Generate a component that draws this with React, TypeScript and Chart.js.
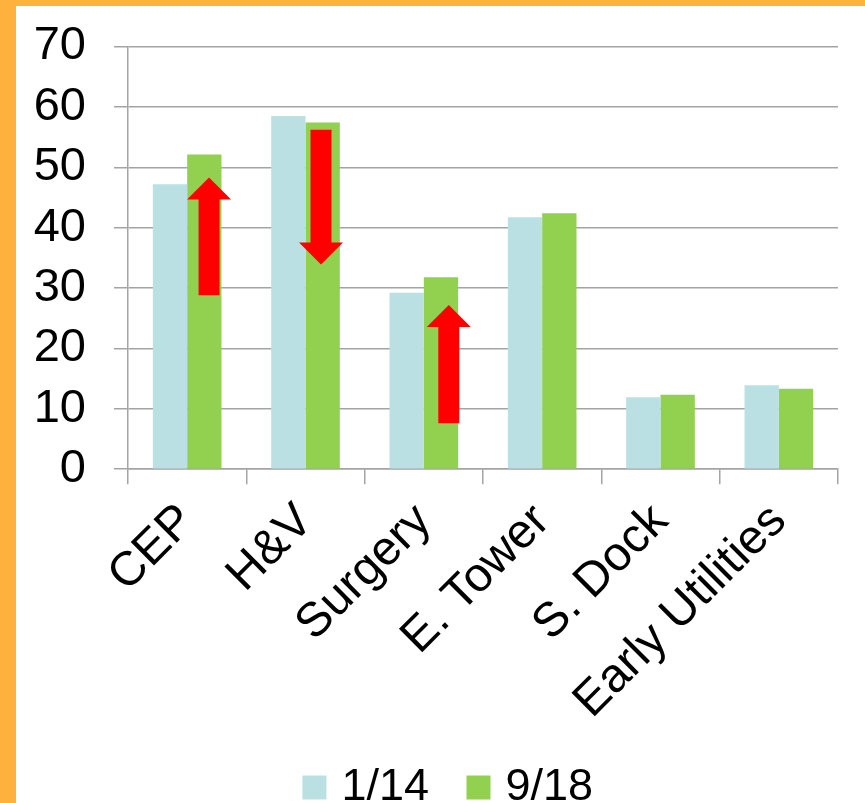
import React, { useEffect, useRef } from "react";
import { Chart, registerables } from "chart.js";

Chart.register(...registerables);

const categories = ["CEP", "H&V", "Surgery", "E. Tower", "S. Dock", "Early Utilities"];
const seriesLabels = ["1/14", "9/18"];
const series1 = [47.2, 58.5, 29.2, 41.7, 11.9, 13.9];
const series2 = [52.1, 57.4, 31.8, 42.4, 12.3, 13.3];
const yMin = 0;
const yMax = 70;
const yStep = 10;

// Red arrow annotations: category position (fractional index), start value, end value
const arrowPositions = [0.185, 1.131, 2.211];
const arrowFrom = [28.8, 56.2, 7.6];
const arrowTo = [48.3, 33.9, 27.2];

const FONT = "'Liberation Sans', Arial, sans-serif";
const GRID = "#a4a4a4";
const BLUE = "#BAE0E4";
const GREEN = "#92D050";
const RED = "#FF0000";

const arrowPlugin = {
  id: "arrows",
  afterDatasetsDraw(chart: any) {
    const { ctx } = chart;
    const x = chart.scales.x;
    const y = chart.scales.y;
    const shaftHalf = 10.5;
    const headHalf = 22;
    const headLen = 22;
    ctx.save();
    ctx.fillStyle = RED;
    for (let i = 0; i < arrowPositions.length; i++) {
      const cx = x.getPixelForValue(arrowPositions[i]);
      const pFrom = y.getPixelForValue(arrowFrom[i]);
      const pTo = y.getPixelForValue(arrowTo[i]);
      const dir = pTo > pFrom ? 1 : -1;
      const pBase = pTo - dir * headLen;
      ctx.beginPath();
      ctx.moveTo(cx - shaftHalf, pFrom);
      ctx.lineTo(cx + shaftHalf, pFrom);
      ctx.lineTo(cx + shaftHalf, pBase);
      ctx.lineTo(cx + headHalf, pBase);
      ctx.lineTo(cx, pTo);
      ctx.lineTo(cx - headHalf, pBase);
      ctx.lineTo(cx - shaftHalf, pBase);
      ctx.closePath();
      ctx.fill();
    }
    ctx.restore();
  },
};

export default function App() {
  const ref = useRef<HTMLCanvasElement | null>(null);

  useEffect(() => {
    if (!ref.current) return;
    const chart = new Chart(ref.current, {
      type: "bar",
      data: {
        labels: categories,
        datasets: [
          {
            label: seriesLabels[0],
            data: series1,
            backgroundColor: BLUE,
            categoryPercentage: 0.58,
            barPercentage: 1,
          },
          {
            label: seriesLabels[1],
            data: series2,
            backgroundColor: GREEN,
            categoryPercentage: 0.58,
            barPercentage: 1,
          },
        ],
      },
      options: {
        responsive: false,
        animation: false,
        layout: { padding: { left: 49, right: 27, top: 40.5, bottom: 0 } },
        scales: {
          x: {
            grid: {
              offset: true,
              drawOnChartArea: false,
              drawTicks: true,
              tickLength: 15,
              color: GRID,
              lineWidth: 1.5,
            },
            border: { color: GRID, width: 1.5 },
            ticks: {
              color: "#000",
              font: { family: FONT, size: 48 },
              minRotation: 45,
              maxRotation: 45,
              autoSkip: false,
              padding: 9,
            },
            afterFit(scale: any) {
              scale.paddingLeft = 0;
              scale.paddingRight = 0;
              scale.height -= 19;
              scale._computeLabelArea = () => undefined;
            },
          },
          y: {
            min: yMin,
            max: yMax,
            grid: { color: GRID, lineWidth: 1.5, tickLength: 14 },
            border: { color: GRID, width: 1.5 },
            ticks: {
              stepSize: yStep,
              autoSkip: false,
              color: "#000",
              font: { family: FONT, size: 47 },
              padding: 28,
            },
            afterFit(scale: any) {
              scale.width = 63;
              scale.paddingTop = 0;
              scale.paddingBottom = 0;
              scale._computeLabelArea = () => undefined;
            },
          },
        },
        plugins: {
          legend: {
            position: "bottom",
            labels: {
              usePointStyle: true,
              pointStyle: "rect",
              boxWidth: 9,
              boxHeight: 24,
              color: "#000",
              font: { family: FONT, size: 45 },
              padding: 45,
            },
          },
          tooltip: { enabled: false },
        },
      },
      plugins: [arrowPlugin],
    });
    return () => chart.destroy();
  }, []);

  return (
    <div
      style={{
        position: "fixed",
        left: 0,
        top: 0,
        width: 865,
        height: 803,
        overflow: "hidden",
        boxSizing: "border-box",
        borderLeft: "16px solid #FFB13E",
        borderTop: "6px solid #FFB13E",
        background: "#fff",
      }}
    >
      <canvas ref={ref} width={849} height={814} style={{ display: "block" }} />
    </div>
  );
}
